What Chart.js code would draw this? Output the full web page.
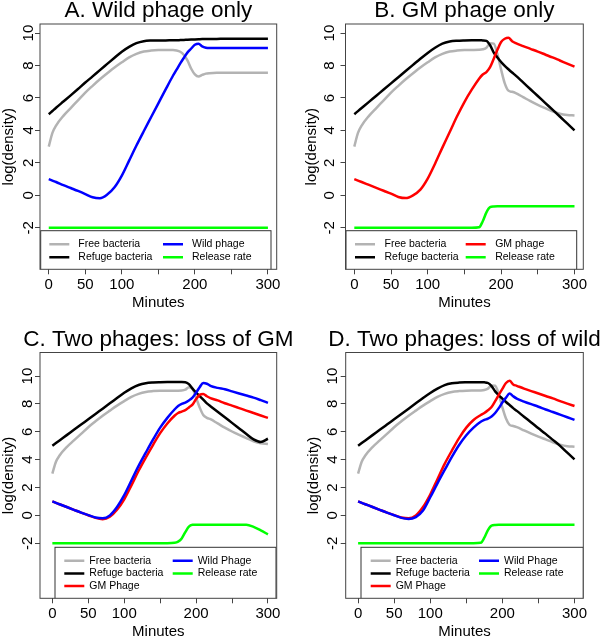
<!DOCTYPE html>
<html>
<head>
<meta charset="utf-8">
<script src="https://cdn.jsdelivr.net/npm/chart.js@4.4.1/dist/chart.umd.min.js"></script>
<style>
  html, body { margin: 0; padding: 0; background: #fff; overflow: hidden; }
  canvas { position: absolute; }
</style>
</head>
<body>
<canvas id="panelA" width="300" height="318" style="left:0;top:0"></canvas>
<canvas id="panelB" width="300" height="318" style="left:300px;top:0"></canvas>
<canvas id="panelC" width="300" height="309" style="left:0;top:328px"></canvas>
<canvas id="panelD" width="300" height="309" style="left:300px;top:328px"></canvas>
<script>
// time grid shared by every series (minutes)
const minutes = [0,5,10,20,30,40,50,60,70,80,90,100,110,120,130,140,150,160,170,175,180,185,190,195,200,205,210,215,220,230,240,250,260,270,280,290,300];

const xTicks = [0,50,100,150,200,250,300];
const xTickLabels = [0,50,100,200,300];
const yTicks = [-2,0,2,4,6,8,10];

// A. Wild phage only
const aFree    = [3.0,3.85,4.3,4.9,5.38,5.85,6.33,6.75,7.15,7.52, 7.88,8.2,8.5,8.72,8.86,8.92,8.95,8.95,8.95,8.93, 8.85,8.65,8.3,7.8,7.45,7.32,7.42,7.5,7.53,7.55, 7.55,7.55,7.55,7.55,7.55,7.55,7.55];
const aRefuge  = [5.0,5.2,5.4,5.78,6.16,6.55,6.95,7.33,7.72,8.1, 8.48,8.85,9.15,9.38,9.5,9.54,9.55,9.55,9.56,9.56, 9.57,9.58,9.59,9.6,9.61,9.62,9.63,9.63,9.64,9.64, 9.65,9.65,9.65,9.65,9.65,9.65,9.65];
const aWild    = [1.0,0.91,0.82,0.63,0.45,0.27,0.08,-0.12,-0.18,0.05, 0.5,1.22,2.14,3.07,3.95,4.81,5.67,6.53,7.37,7.75, 8.13,8.48,8.81,9.05,9.28,9.35,9.18,9.1,9.08,9.08, 9.08,9.08,9.08,9.08,9.08,9.08,9.08];
const aRelease = [-2,-2,-2,-2,-2,-2,-2,-2,-2,-2, -2,-2,-2,-2,-2,-2,-2,-2,-2,-2, -2,-2,-2,-2,-2,-2,-2,-2,-2,-2, -2,-2,-2,-2,-2,-2,-2];

// B. GM phage only
const bFree    = [3.0,3.85,4.3,4.9,5.38,5.85,6.33,6.75,7.15,7.52, 7.88,8.2,8.5,8.72,8.86,8.92,8.95,8.96,8.97,9.0, 9.1,9.38,9.35,8.7,7.75,6.9,6.45,6.38,6.3,6.05, 5.8,5.57,5.37,5.18,5.03,4.95,4.92];
const bRefuge  = [5.0,5.19,5.38,5.76,6.14,6.52,6.9,7.28,7.66,8.04, 8.42,8.78,9.1,9.35,9.48,9.53,9.55,9.56,9.56,9.55, 9.52,9.25,8.8,8.5,8.22,7.98,7.77,7.57,7.38,6.96, 6.54,6.12,5.7,5.28,4.86,4.43,4.0];
const bGM      = [1.0,0.91,0.82,0.64,0.46,0.28,0.1,-0.1,-0.17,0.0, 0.35,1.03,1.95,2.94,3.9,4.87,5.75,6.51,7.19,7.45, 7.6,7.9,8.42,8.97,9.45,9.65,9.71,9.5,9.38,9.2, 9.03,8.86,8.68,8.5,8.31,8.12,7.93];
const bRelease = [-2,-2,-2,-2,-2,-2,-2,-2,-2,-2, -2,-2,-2,-2,-2,-2,-2,-2,-1.97,-1.6, -1.05,-0.73,-0.69,-0.68,-0.68,-0.68,-0.68,-0.68,-0.68,-0.68, -0.68,-0.68,-0.68,-0.68,-0.68,-0.68,-0.68];

// C. Two phages: loss of GM
const cFree    = [3.0,3.85,4.3,4.9,5.38,5.85,6.33,6.75,7.15,7.52, 7.88,8.2,8.5,8.72,8.86,8.92,8.95,8.95,8.95,8.95, 8.96,9.02,9.2,9.1,8.45,7.75,7.2,7.0,6.9,6.6, 6.3,6.02,5.78,5.55,5.32,5.17,5.12];
const cRefuge  = [5.0,5.19,5.38,5.76,6.14,6.52,6.9,7.28,7.66,8.04, 8.42,8.8,9.12,9.36,9.49,9.54,9.56,9.57,9.57,9.57, 9.57,9.56,9.42,9.1,8.82,8.56,8.3,8.04,7.84,7.44, 7.04,6.64,6.24,5.84,5.46,5.27,5.5];
const cGM      = [1.0,0.9,0.8,0.6,0.4,0.2,0.01,-0.18,-0.27,-0.1, 0.4,1.15,2.15,3.2,4.15,5.05,5.9,6.6,7.15,7.35, 7.45,7.55,7.75,7.95,8.35,8.65,8.72,8.55,8.42,8.25, 8.05,7.88,7.7,7.52,7.35,7.17,7.0];
const cWild    = [1.0,0.9,0.8,0.6,0.4,0.2,0.02,-0.15,-0.2,0.0, 0.6,1.45,2.5,3.55,4.5,5.43,6.3,7.0,7.6,7.85, 8.0,8.1,8.25,8.45,8.8,9.2,9.5,9.45,9.3,9.15, 9.05,8.9,8.75,8.6,8.45,8.27,8.08];
const cRelease = [-2,-2,-2,-2,-2,-2,-2,-2,-2,-2, -2,-2,-2,-2,-2,-2,-2,-2,-1.97,-1.88, -1.65,-1.2,-0.8,-0.68,-0.67,-0.67,-0.67,-0.67,-0.67,-0.67, -0.67,-0.67,-0.67,-0.67,-0.82,-1.07,-1.36];

// D. Two phages: loss of wild
const dFree    = [3.0,3.85,4.3,4.9,5.38,5.85,6.33,6.75,7.15,7.52, 7.88,8.2,8.5,8.72,8.86,8.92,8.95,8.96,8.97,9.0, 9.1,9.33,9.3,8.7,7.75,6.95,6.5,6.42,6.33,6.1, 5.87,5.65,5.45,5.25,5.08,4.97,4.93];
const dRefuge  = [5.0,5.19,5.38,5.76,6.14,6.52,6.9,7.28,7.66,8.04, 8.42,8.78,9.1,9.35,9.48,9.53,9.55,9.56,9.56,9.55, 9.5,9.28,8.9,8.62,8.38,8.14,7.92,7.7,7.5,7.08, 6.67,6.25,5.85,5.42,4.99,4.5,4.02];
const dGM      = [1.0,0.9,0.8,0.6,0.4,0.2,0.02,-0.15,-0.21,0.0, 0.6,1.5,2.6,3.7,4.65,5.55,6.3,6.85,7.2,7.35, 7.55,7.78,8.2,8.65,9.08,9.5,9.66,9.4,9.3,9.1, 8.92,8.75,8.57,8.4,8.2,8.02,7.85];
const dWild    = [1.0,0.9,0.8,0.6,0.4,0.2,0.01,-0.18,-0.26,-0.12, 0.35,1.3,2.3,3.26,4.2,5.05,5.75,6.3,6.72,6.85, 6.95,7.1,7.35,7.7,8.1,8.45,8.75,8.55,8.38,8.17, 7.98,7.8,7.6,7.42,7.23,7.04,6.85];
const dRelease = [-2,-2,-2,-2,-2,-2,-2,-2,-2,-2, -2,-2,-2,-2,-2,-2,-2,-2,-1.97,-1.6, -1.05,-0.73,-0.69,-0.68,-0.68,-0.68,-0.68,-0.68,-0.68,-0.68, -0.68,-0.68,-0.68,-0.68,-0.68,-0.68,-0.68];

const GRAY = "#b3b3b3", BLACK = "#000000", RED = "#ff0000", BLUE = "#0000ff", GREEN = "#00ff00";
const FONT = '"Liberation Sans", Arial, Helvetica, sans-serif';

Chart.defaults.font.family = FONT;
Chart.defaults.color = "#000";

// R-style box, legend inside the plot region and main title
const rStyle = {
  id: "rStyle",
  afterDatasetsDraw(chart, args, o) {
    const { ctx, chartArea: a } = chart;
    const g = o.legend;
    ctx.save();
    ctx.beginPath();
    ctx.rect(a.left, a.top, a.right - a.left, a.bottom - a.top);
    ctx.clip();
    const L = a.left + g.left, T = a.top + g.top, R = a.right + g.right;
    ctx.fillStyle = "#fff";
    ctx.fillRect(L, T, R - L, a.bottom - T + 10);
    ctx.strokeStyle = "#333";
    ctx.lineWidth = 1;
    ctx.strokeRect(L, T, R - L, a.bottom - T + 10);
    const sets = chart.data.datasets;
    const nrow = Math.ceil(sets.length / 2);
    ctx.font = "10.5px " + FONT;
    ctx.textBaseline = "middle";
    ctx.textAlign = "left";
    sets.forEach((ds, i) => {
      const x = L + g.cols[Math.floor(i / nrow)];
      const y = T + g.row0 + (i % nrow) * g.rowGap;
      ctx.strokeStyle = ds.borderColor;
      ctx.lineWidth = 2.5;
      ctx.beginPath();
      ctx.moveTo(x, y);
      ctx.lineTo(x + 20, y);
      ctx.stroke();
      ctx.fillStyle = "#000";
      ctx.fillText(ds.label, x + 20 + g.gap, y);
    });
    ctx.restore();

    ctx.save();
    ctx.strokeStyle = "#444";
    ctx.lineWidth = 1;
    ctx.strokeRect(a.left, a.top, a.right - a.left, a.bottom - a.top);
    ctx.fillStyle = "#000";
    ctx.font = "22.5px " + FONT;
    ctx.textAlign = "center";
    ctx.textBaseline = "alphabetic";
    ctx.fillText(o.title, (a.left + a.right) / 2, o.titleBase);
    ctx.restore();
  }
};

function panel(id, title, series, g) {
  const canvas = document.getElementById(id);
  const W = canvas.width, H = canvas.height;
  return new Chart(canvas, {
    type: "line",
    data: {
      datasets: series.map((s, i) => ({
        label: s[0],
        data: minutes.map((m, k) => ({ x: m, y: s[1][k] })),
        borderColor: s[2],
        borderWidth: 2.5,
        pointRadius: 0,
        fill: false,
        cubicInterpolationMode: "monotone",
        order: -i
      }))
    },
    options: {
      responsive: false,
      animation: false,
      events: [],
      layout: { padding: { left: 0, right: W - g.right, top: g.top, bottom: 0 } },
      plugins: {
        legend: { display: false },
        tooltip: { enabled: false },
        rStyle: { title: title, titleBase: g.titleBase, legend: g.legend }
      },
      scales: {
        x: {
          type: "linear",
          min: g.xMin,
          max: g.xMax,
          afterBuildTicks: s => { s.ticks = xTicks.map(v => ({ value: v })); },
          afterFit: s => { s.height = H - g.bottom; },
          grid: { drawOnChartArea: false, drawTicks: true, tickLength: 5, color: "#444" },
          border: { display: false },
          ticks: {
            autoSkip: false, maxRotation: 0, padding: 1.5,
            font: { size: 15 },
            callback: v => xTickLabels.includes(v) ? String(v) : ""
          },
          title: { display: true, text: "Minutes", font: { size: 15 }, padding: { top: 0, bottom: g.xTitlePad } }
        },
        y: {
          type: "linear",
          min: g.yMin,
          max: g.yMax,
          afterBuildTicks: s => { s.ticks = yTicks.map(v => ({ value: v })); },
          afterFit: s => { s.width = g.left; },
          grid: { drawOnChartArea: false, drawTicks: true, tickLength: 5, color: "#444" },
          border: { display: false },
          ticks: { minRotation: 90, maxRotation: 90, crossAlign: "center", padding: g.yTickPad, font: { size: 15 } },
          title: { display: true, text: "log(density)", font: { size: 15 }, padding: { top: g.yTitlePad, bottom: 0 } }
        }
      }
    },
    plugins: [rStyle]
  });
}

panel("panelA", "A. Wild phage only", [
  ["Free bacteria", aFree, GRAY],
  ["Refuge bacteria", aRefuge, BLACK],
  ["Wild phage", aWild, BLUE],
  ["Release rate", aRelease, GREEN]
], {
  left: 40, right: 276.7, top: 24, bottom: 269.3, titleBase: 16.7,
  xMin: -12, xMax: 312, yMin: -4.56, yMax: 10.56,
  xTitlePad: 6.2, yTickPad: -2.0, yTitlePad: -0.3,
  legend: { left: 0.7, top: 206.7, right: -5.7, row0: 13.6, rowGap: 13, cols: [8.6, 122.3], gap: 9 }
});

panel("panelB", "B. GM phage only", [
  ["Free bacteria", bFree, GRAY],
  ["Refuge bacteria", bRefuge, BLACK],
  ["GM phage", bGM, RED],
  ["Release rate", bRelease, GREEN]
], {
  left: 45.5, right: 283.3, top: 24, bottom: 269.3, titleBase: 16.7,
  xMin: -12, xMax: 312, yMin: -4.56, yMax: 10.56,
  xTitlePad: 6.2, yTickPad: 2.2, yTitlePad: 2.7,
  legend: { left: 0.5, top: 206.7, right: -6.6, row0: 13.6, rowGap: 13, cols: [9, 119.7], gap: 9.5 }
});

panel("panelC", "C. Two phages: loss of GM", [
  ["Free bacteria", cFree, GRAY],
  ["Refuge bacteria", cRefuge, BLACK],
  ["GM Phage", cGM, RED],
  ["Wild Phage", cWild, BLUE],
  ["Release rate", cRelease, GREEN]
], {
  left: 40, right: 276.7, top: 24.5, bottom: 270.3, titleBase: 17.7,
  xMin: -17.2, xMax: 312.2, yMin: -5.95, yMax: 11.69,
  xTitlePad: -3.7, yTickPad: -0.8, yTitlePad: 0.2,
  legend: { left: 15, top: 194.8, right: -0.7, row0: 13.4, rowGap: 12.7, cols: [9.3, 117.7], gap: 5 }
});

panel("panelD", "D. Two phages: loss of wild", [
  ["Free bacteria", dFree, GRAY],
  ["Refuge bacteria", dRefuge, BLACK],
  ["GM Phage", dGM, RED],
  ["Wild Phage", dWild, BLUE],
  ["Release rate", dRelease, GREEN]
], {
  left: 45.7, right: 283.3, top: 24.5, bottom: 270.3, titleBase: 17.7,
  xMin: -17.2, xMax: 312.2, yMin: -5.95, yMax: 11.69,
  xTitlePad: -3.7, yTickPad: -0.9, yTitlePad: 5,
  legend: { left: 15.3, top: 194.8, right: 0, row0: 13.4, rowGap: 12.7, cols: [9.7, 118], gap: 5 }
});
</script>
</body>
</html>
